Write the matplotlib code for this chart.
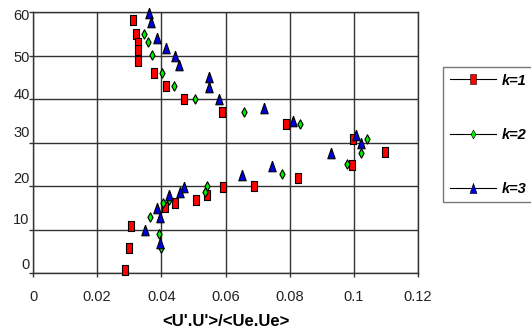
import numpy as np
import matplotlib.pyplot as plt
from matplotlib.lines import Line2D

plt.rcParams['font.family'] = ['Liberation Sans', 'DejaVu Sans']

# k=1 (red squares)
k1_x = [0.0313, 0.0321, 0.0326, 0.0326, 0.0326, 0.0376, 0.0416, 0.0470, 0.0588, 0.0788,
        0.0996, 0.1098, 0.0993, 0.0827, 0.0688, 0.0591, 0.0543, 0.0509, 0.0442, 0.0410,
        0.0307, 0.0299, 0.0287]
k1_y = [58.2, 54.9, 52.9, 51.3, 48.7, 46.0, 43.0, 40.0, 37.1, 34.2,
        30.8, 27.9, 24.8, 21.9, 20.0, 19.7, 17.9, 16.8, 16.0, 15.2,
        10.9, 5.8, 0.7]

# k=2 (green diamonds)
k2_x = [0.0346, 0.0358, 0.0370, 0.0403, 0.0438, 0.0504, 0.0658, 0.0832, 0.1041, 0.1022,
        0.0980, 0.0776, 0.0543, 0.0535, 0.0423, 0.0404, 0.0364, 0.0392, 0.0400]
k2_y = [54.9, 53.2, 50.1, 46.0, 43.0, 40.0, 37.1, 34.2, 30.8, 27.7,
        25.0, 22.7, 20.0, 18.7, 16.8, 16.0, 12.9, 9.0, 5.7]

# k=3 (blue triangles)
k3_x = [0.0362, 0.0369, 0.0388, 0.0413, 0.0443, 0.0455, 0.0548, 0.0548, 0.0581, 0.0720,
        0.0809, 0.1008, 0.1022, 0.0930, 0.0746, 0.0651, 0.0472, 0.0457, 0.0424, 0.0387,
        0.0395, 0.0349, 0.0397]
k3_y = [59.7, 57.8, 54.0, 51.7, 49.8, 47.8, 45.1, 42.7, 40.0, 37.9,
        34.9, 31.7, 29.8, 27.5, 24.6, 22.5, 19.7, 18.7, 17.9, 14.9,
        12.8, 9.9, 7.0]

labels = ['k=1', 'k=2', 'k=3']
xticks = [0, 0.02, 0.04, 0.06, 0.08, 0.1, 0.12]
xtick_labels = ['0', '0.02', '0.04', '0.06', '0.08', '0.1', '0.12']
yticks = [0, 10, 20, 30, 40, 50, 60]
# the y labels in the original sit a little off their gridlines (points, + is up)
ylabel_shift = [6, 6.5, 5, 6.5, 3, -2, -3]

rect = [(-0.6, -1), (0.6, -1), (0.6, 1), (-0.6, 1), (-0.6, -1)]
diam = [(0, -1), (0.55, 0), (0, 1), (-0.55, 0), (0, -1)]
tri = [(0, 1), (-0.7, -1), (0.7, -1), (0, 1)]

fig = plt.figure(figsize=(5.31, 3.29), dpi=100)
ax = fig.add_axes([33/531, 1-273/329, (418-33)/531, (273-12)/329])

styles = [(k1_x, k1_y, rect, '#ff0000', 7.4),
          (k2_x, k2_y, diam, '#00ee00', 6.8),
          (k3_x, k3_y, tri, '#0000dd', 7.6)]
for (xs, ys, m, c, s) in styles:
    ax.plot(xs, ys, linestyle='none', marker=m, markersize=s, markerfacecolor=c,
            markeredgecolor='black', markeredgewidth=0.8, clip_on=False, zorder=3)

ax.set_xlim(0, 0.12)
ax.set_ylim(0, 60)
ax.set_xticks(xticks)
ax.set_xticklabels(xtick_labels)
ax.set_yticks(yticks)
ax.set_yticklabels([])
ax.tick_params(length=3, width=1, colors='#333333')
ax.tick_params(axis='x', labelsize=10.5, labelcolor='#222222', pad=9)
ax.grid(True, color='#333333', linewidth=1)
ax.set_axisbelow(True)
for sp in ax.spines.values():
    sp.set_color('#333333')
    sp.set_linewidth(1)

for v, dy in zip(yticks, ylabel_shift):
    ax.annotate(str(v), xy=(0, v), xycoords=('axes fraction', 'data'),
                xytext=(-2.5, dy), textcoords='offset points',
                ha='right', va='center', fontsize=10.5, color='#222222')

ax.text(0.5, 1-322/329, "<U'.U'>/<Ue.Ue>", transform=fig.transFigure, ha='center', va='center',
        fontsize=12, fontweight='bold')
ax.texts[-1].set_x((33+418)/2/531)

handles = []
for (xs, ys, m, c, s) in styles:
    handles.append(Line2D([], [], color='black', linewidth=0.8, marker=m, markersize=s*0.95,
                          markerfacecolor=c, markeredgecolor='black', markeredgewidth=0.4))
leg = fig.legend(handles, labels, loc='upper left', bbox_to_anchor=(443/531, 1-67/329),
                 borderaxespad=0, frameon=True, fancybox=False, edgecolor='#555555',
                 prop={'weight': 'bold', 'style': 'italic', 'size': 10.5},
                 handlelength=3.2, handletextpad=0.4, labelspacing=2.75, borderpad=0.45)
leg.get_frame().set_linewidth(1)

fig.savefig('out.png', dpi=100)
